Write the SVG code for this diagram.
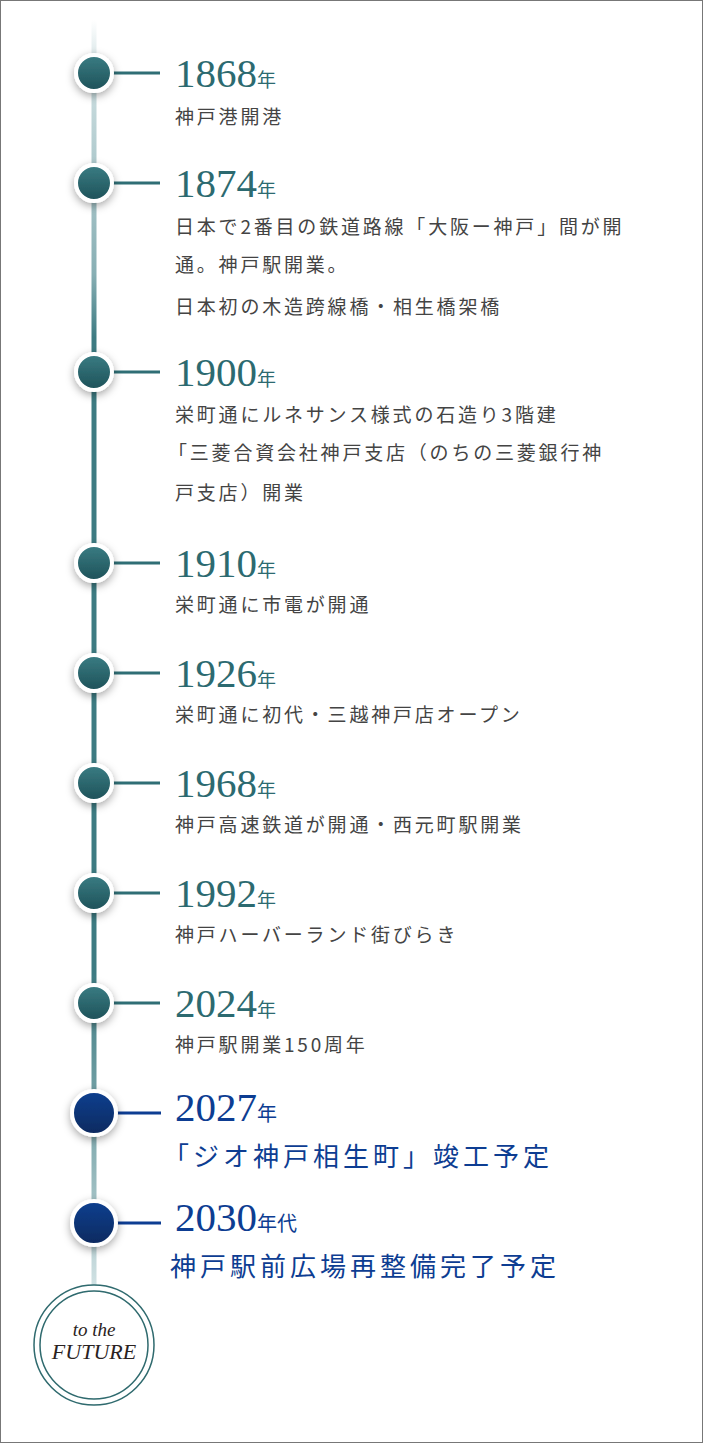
<svg xmlns="http://www.w3.org/2000/svg" width="703" height="1443" viewBox="0 0 703 1443">
<style>
.y{font-family:"Liberation Serif",serif;font-size:41px;fill:#2c6a70}
.y tspan{font-family:"Noto Sans CJK JP",sans-serif;font-size:19px}
.t{font-family:"Noto Sans CJK JP",sans-serif;font-size:19px;letter-spacing:2.8px;fill:#444}
.yb{font-family:"Liberation Serif",serif;font-size:41px;fill:#0d3d92}
.yb tspan{font-family:"Noto Sans CJK JP",sans-serif;font-size:20px}
.tb{font-family:"Noto Sans CJK JP",sans-serif;font-size:26px;letter-spacing:4px;fill:#0d3d92}
.ln{stroke:#2f6e75;stroke-width:3}
.lnb{stroke:#0d3d92;stroke-width:3}
.n{fill:url(#gt);stroke:#fff;stroke-width:4;filter:url(#sh)}
.nb{fill:url(#gb);stroke:#fff;stroke-width:4;filter:url(#sh)}
</style>
<defs>
<linearGradient id="gv" x1="0" y1="0" x2="0" y2="1">
<stop offset="0" stop-color="#fff"/><stop offset="0.04" stop-color="#cfe0e2"/><stop offset="0.2" stop-color="#88afb4"/><stop offset="0.25" stop-color="#3d7b82"/><stop offset="0.75" stop-color="#3d7b82"/><stop offset="0.9" stop-color="#8fb4b8"/><stop offset="1" stop-color="#d3e3e5"/>
</linearGradient>
<linearGradient id="gt" x1="0" y1="0" x2="0" y2="1"><stop offset="0" stop-color="#3b7d84"/><stop offset="1" stop-color="#1d5158"/></linearGradient>
<linearGradient id="gb" x1="0" y1="0" x2="0" y2="1"><stop offset="0" stop-color="#0f3f90"/><stop offset="1" stop-color="#0a2a5e"/></linearGradient>
<filter id="sh" x="-60%" y="-60%" width="220%" height="220%"><feDropShadow dx="0" dy="3" stdDeviation="4" flood-color="#000" flood-opacity="0.35"/></filter>
</defs>
<rect x="0.5" y="0.5" width="702" height="1442" fill="#fff" stroke="#777"/>
<g id="connectors">
<rect x="91.5" y="20" width="5" height="1270" fill="url(#gv)"/>
<line class="ln" x1="112" y1="73" x2="160" y2="73"/>
<line class="ln" x1="112" y1="183" x2="160" y2="183"/>
<line class="ln" x1="112" y1="372" x2="160" y2="372"/>
<line class="ln" x1="112" y1="563" x2="160" y2="563"/>
<line class="ln" x1="112" y1="673" x2="160" y2="673"/>
<line class="ln" x1="112" y1="783" x2="160" y2="783"/>
<line class="ln" x1="112" y1="893" x2="160" y2="893"/>
<line class="ln" x1="112" y1="1003" x2="160" y2="1003"/>
<line class="lnb" x1="115" y1="1113" x2="161" y2="1113"/>
<line class="lnb" x1="115" y1="1223" x2="161" y2="1223"/>
</g>
<g id="n1868"><circle class="n" cx="94" cy="73" r="18"/><text class="y" x="175" y="87">1868<tspan>年</tspan></text><text class="t" x="175" y="124">神戸港開港</text></g>
<g id="n1874"><circle class="n" cx="94" cy="183" r="18"/><text class="y" x="175" y="197">1874<tspan>年</tspan></text><text class="t" x="175" y="234">日本で2番目の鉄道路線「大阪ー神戸」間が開</text><text class="t" x="175" y="272">通。神戸駅開業。</text><text class="t" x="175" y="314">日本初の木造跨線橋・相生橋架橋</text></g>
<g id="n1900"><circle class="n" cx="94" cy="372" r="18"/><text class="y" x="175" y="386">1900<tspan>年</tspan></text><text class="t" x="175" y="422">栄町通にルネサンス様式の石造り3階建</text><text class="t" x="168" y="460">「三菱合資会社神戸支店（のちの三菱銀行神</text><text class="t" x="175" y="500">戸支店）開業</text></g>
<g id="n1910"><circle class="n" cx="94" cy="563" r="18"/><text class="y" x="175" y="577">1910<tspan>年</tspan></text><text class="t" x="175" y="612">栄町通に市電が開通</text></g>
<g id="n1926"><circle class="n" cx="94" cy="673" r="18"/><text class="y" x="175" y="687">1926<tspan>年</tspan></text><text class="t" x="175" y="722">栄町通に初代・三越神戸店オープン</text></g>
<g id="n1968"><circle class="n" cx="94" cy="783" r="18"/><text class="y" x="175" y="797">1968<tspan>年</tspan></text><text class="t" x="175" y="832">神戸高速鉄道が開通・西元町駅開業</text></g>
<g id="n1992"><circle class="n" cx="94" cy="893" r="18"/><text class="y" x="175" y="907">1992<tspan>年</tspan></text><text class="t" x="175" y="942">神戸ハーバーランド街びらき</text></g>
<g id="n2024"><circle class="n" cx="94" cy="1003" r="18"/><text class="y" x="175" y="1017">2024<tspan>年</tspan></text><text class="t" x="175" y="1052">神戸駅開業150周年</text></g>
<g id="n2027"><circle class="nb" cx="94" cy="1113" r="22"/><text class="yb" x="175" y="1121">2027<tspan>年</tspan></text><text class="tb" x="163" y="1166">「ジオ神戸相生町」竣工予定</text></g>
<g id="n2030"><circle class="nb" cx="94" cy="1223" r="22"/><text class="yb" x="175" y="1231">2030<tspan>年代</tspan></text><text class="tb" x="170" y="1276">神戸駅前広場再整備完了予定</text></g>
<g id="future"><circle cx="94" cy="1345" r="60" fill="#fff" stroke="#2f6a6e" stroke-width="1.5"/><circle cx="94" cy="1345" r="54" fill="none" stroke="#2f6a6e" stroke-width="1.5"/>
<text x="94" y="1336" text-anchor="middle" font-family="Liberation Serif,serif" font-style="italic" font-size="19" fill="#2a2222">to the</text>
<text x="94" y="1359" text-anchor="middle" font-family="Liberation Serif,serif" font-style="italic" font-size="22" fill="#2a2222">FUTURE</text></g>
</svg>
